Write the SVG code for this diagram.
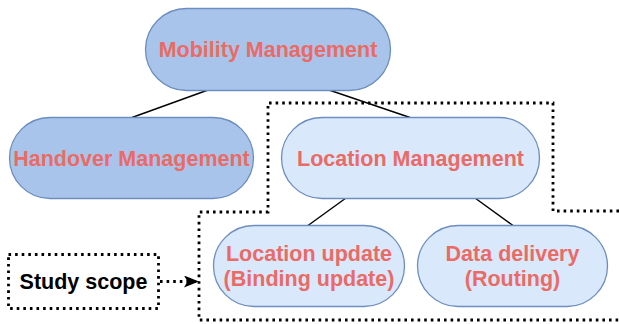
<svg xmlns="http://www.w3.org/2000/svg" width="619" height="324" viewBox="0 0 619 324">
<style>
.dark{fill:#A9C4EB;stroke:#6C8EBF;stroke-width:1.3}
.light{fill:#DAE8FC;stroke:#6C8EBF;stroke-width:1.3}
.lbl{font-family:"Liberation Sans",Arial,sans-serif;font-weight:bold;font-size:21.5px;fill:#EA6B66;text-anchor:middle}
.blk{font-family:"Liberation Sans",Arial,sans-serif;font-weight:bold;font-size:21.5px;fill:#000;text-anchor:middle}
.edge{stroke:#000;stroke-width:1.4;fill:none}
.dot{stroke:#000;stroke-width:2.8;fill:none;stroke-dasharray:2.6 4}
</style>
<defs>
<marker id="arr" markerWidth="16" markerHeight="12" refX="15" refY="6" orient="auto" markerUnits="userSpaceOnUse">
<path d="M0,0 L15,6 L0,12 L3.5,6 Z" fill="#000"/>
</marker>
</defs>
<rect width="619" height="324" fill="#fff"/>
<g id="scope-region">
<path class="dot" d="M619,211 L553,211 L553,103 L268,103 L268,212 L199,212 L199,320 L619,320"/>
</g>
<g id="connectors">
<line class="edge" x1="208" y1="90" x2="132" y2="117.5"/>
<line class="edge" x1="329" y1="90" x2="410" y2="117.5"/>
<line class="edge" x1="346" y1="198" x2="308" y2="225.5"/>
<line class="edge" x1="475" y1="198" x2="513" y2="225.5"/>
<line class="dot" x1="160" y1="281.5" x2="199" y2="281.5" marker-end="url(#arr)"/>
</g>
<g id="mobility">
<rect class="dark" x="145.5" y="8.5" width="245" height="82" rx="41"/>
<text class="lbl" x="268" y="57">Mobility Management</text>
</g>
<g id="handover">
<rect class="dark" x="9.5" y="117.5" width="244" height="81" rx="40.5"/>
<text class="lbl" x="131.5" y="165.5">Handover Management</text>
</g>
<g id="location-mgmt">
<rect class="light" x="281.5" y="117.5" width="258" height="81" rx="40.5"/>
<text class="lbl" x="410.5" y="165.5">Location Management</text>
</g>
<g id="location-update">
<rect class="light" x="213.5" y="225.5" width="191" height="81" rx="40.5"/>
<text class="lbl" x="309" y="260.5">Location update</text>
<text class="lbl" x="309" y="285.5">(Binding update)</text>
</g>
<g id="data-delivery">
<rect class="light" x="417.5" y="225.5" width="190" height="81" rx="40.5"/>
<text class="lbl" x="512.5" y="260.5">Data delivery</text>
<text class="lbl" x="512.5" y="285.5">(Routing)</text>
</g>
<g id="study-scope">
<rect class="dot" x="8.5" y="254.5" width="150" height="54"/>
<text class="blk" x="83.5" y="288.5">Study scope</text>
</g>
</svg>
